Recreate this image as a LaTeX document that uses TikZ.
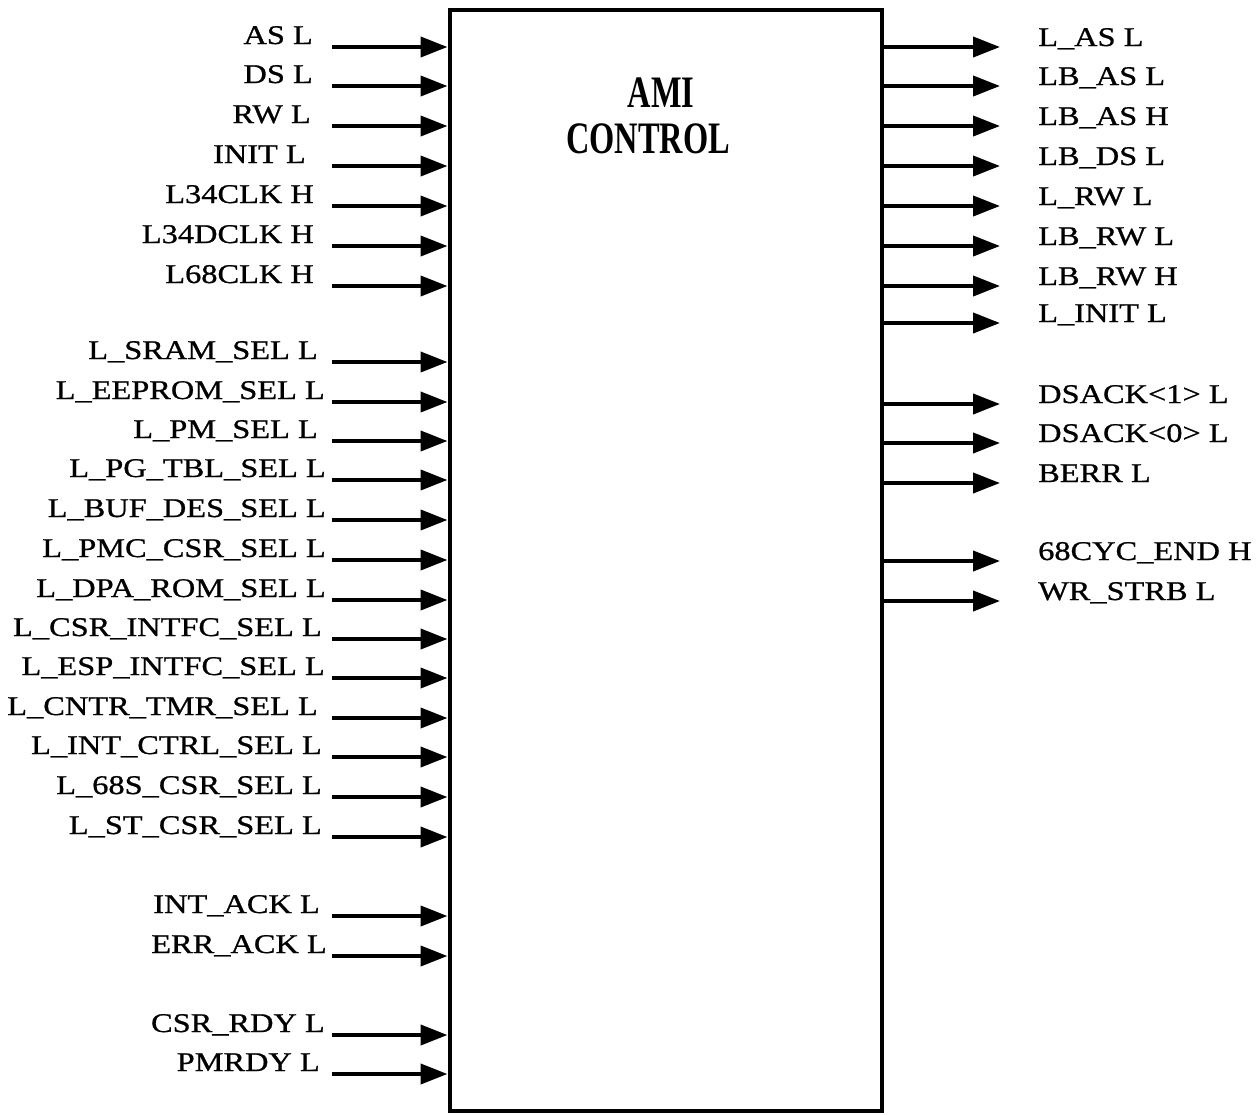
\documentclass[tikz,border=0pt]{standalone}
\usepackage{fontspec}
\setmainfont{Liberation Serif}[FakeStretch=1.2, FakeBold=0.8]
\newfontfamily\titlefont{Liberation Serif}[FakeStretch=0.72]
\usetikzlibrary{arrows.meta}
\begin{document}
\begin{tikzpicture}[x=1pt,y=-1pt,
  sig/.style={font=\fontsize{27}{30}\selectfont, inner sep=0pt},
  ttl/.style={font=\titlefont\bfseries\fontsize{45}{50}\selectfont, inner sep=0pt, anchor=base},
  wire/.style={line width=4pt, -{Triangle[length=27pt,width=20pt]}},
  blk/.style={draw, line width=4pt, inner sep=0pt, minimum width=432.5pt, minimum height=1101.5pt}]
\useasboundingbox (0,0) rectangle (1258,1114);
\node[blk] (box) at (665.75,560.25) {};
\node[ttl] (t1) at (661,107) {AMI};
\node[ttl] (t2) at (648,153) {CONTROL};
% inputs
\foreach \y/\t/\r [count=\i] in {
  47/AS L/313, 86/DS L/313, 126/RW L/311, 166/INIT L/306,
  206/L34CLK H/314, 246/L34DCLK H/314, 286/L68CLK H/314,
  362/L\_SRAM\_SEL L/318, 402/L\_EEPROM\_SEL L/325, 441/L\_PM\_SEL L/318,
  480/L\_PG\_TBL\_SEL L/326, 520/L\_BUF\_DES\_SEL L/326, 560/L\_PMC\_CSR\_SEL L/326,
  600/L\_DPA\_ROM\_SEL L/326, 639/L\_CSR\_INTFC\_SEL L/322, 678/L\_ESP\_INTFC\_SEL L/325,
  718/L\_CNTR\_TMR\_SEL L/318, 757/L\_INT\_CTRL\_SEL L/322, 797/L\_68S\_CSR\_SEL L/322,
  837/L\_ST\_CSR\_SEL L/322, 916/INT\_ACK L/320, 956/ERR\_ACK L/327,
  1035/CSR\_RDY L/325, 1074/PMRDY L/320} {
  \node[sig, anchor=base east] (in\i) at (\r,\y-3) {\t};
  \coordinate (is\i) at (332,\y);
  \draw[wire] (is\i) -- (box.west |- is\i);
}
% outputs
\foreach \y/\t [count=\i] in {
  47/L\_AS L, 86/LB\_AS L, 126/LB\_AS H, 166/LB\_DS L, 206/L\_RW L,
  246/LB\_RW L, 286/LB\_RW H, 323/L\_INIT L, 404/DSACK<1> L, 443/DSACK<0> L,
  483/BERR L, 561/68CYC\_END H, 601/WR\_STRB L} {
  \node[sig, anchor=base west] (out\i) at (1038,\y-1) {\t};
  \coordinate (oe\i) at (1000,\y);
  \draw[wire] (box.east |- oe\i) -- (oe\i);
}
\end{tikzpicture}
\end{document}
